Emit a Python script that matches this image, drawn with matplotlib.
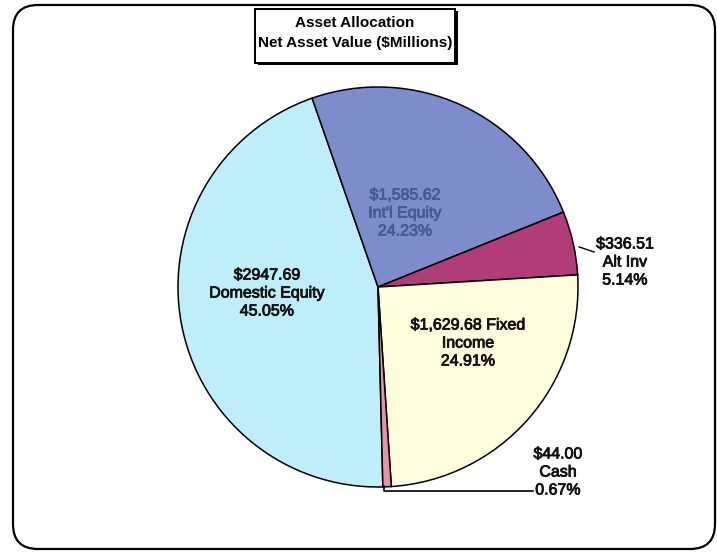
import numpy as np
import matplotlib.pyplot as plt
import matplotlib.patheffects as pe
from matplotlib.patches import FancyBboxPatch, Rectangle

plt.rcParams['font.family'] = ['Liberation Sans', 'DejaVu Sans']

# net asset value by asset class, $ millions
names = ['Domestic Equity', "Int'l Equity", 'Alt Inv', 'Fixed Income', 'Cash']
values = [2947.69, 1585.62, 336.51, 1629.68, 44.00]
use_comma = [False, True, False, True, False]
colors = ['#bfeefb', '#7d8dcb', '#b03d78', '#fefedc', '#ea929e']

W, H = 717, 552
fig = plt.figure(figsize=(W / 100, H / 100), dpi=100)
ax = fig.add_axes([0, 0, 1, 1])

def py(y):
    # pixel-style y (top down) -> data y
    return H - y

cx, cy, R = 378, py(287), 200
wedges, _ = ax.pie(values, colors=colors, startangle=271.4, counterclock=False,
                   center=(cx, cy), radius=R, explode=[0, 0, 0.025, 0, 0],
                   wedgeprops=dict(edgecolor='black', linewidth=1.1))
ax.set_xlim(0, W)
ax.set_ylim(0, H)
ax.set_aspect('equal')
ax.axis('off')

total = sum(values)
money = []
for v, c in zip(values, use_comma):
    money.append(f'${v:,.2f}' if c else f'${v:.2f}')
pct = [f'{100 * v / total:.2f}%' for v in values]

fs = 11.5

def label(x, y, s, color='#111111'):
    ax.text(x, py(y), s, ha='center', va='center', fontsize=fs, color=color,
            linespacing=1.25,
            path_effects=[pe.withStroke(linewidth=0.6, foreground=color)])

label(267, 293, f'{money[0]}\n{names[0]}\n{pct[0]}')
label(405, 213, f'{money[1]}\n{names[1]}\n{pct[1]}', color='#4a5898')
label(625, 262, f'{money[2]}\n{names[2]}\n{pct[2]}')
label(468, 343, f'{money[3]} Fixed\nIncome\n{pct[3]}')
label(558, 472, f'{money[4]}\n{names[4]}\n{pct[4]}')

# leader lines for the outside labels
w = wedges[2]
a = np.deg2rad((w.theta1 + w.theta2) / 2)
x0 = w.center[0] + w.r * np.cos(a)
y0 = w.center[1] + w.r * np.sin(a)
ax.plot([x0 + 6, 594], [y0 - 4, py(252)], color='black', lw=1)

w = wedges[4]
a = np.deg2rad((w.theta1 + w.theta2) / 2)
x0 = w.center[0] + w.r * np.cos(a) - 3
ax.plot([x0, x0, 533], [py(486), py(491), py(491)], color='black', lw=1.2)

# title box with drop shadow
ax.add_patch(Rectangle((258, py(65)), 200, 54, facecolor='black', edgecolor='none'))
ax.add_patch(Rectangle((255, py(63)), 200, 54, facecolor='white', edgecolor='black', lw=1.4))
ax.text(355, py(23), 'Asset Allocation', ha='center', va='center', fontsize=11,
        fontweight='bold')
ax.text(355, py(43), 'Net Asset Value ($Millions)', ha='center', va='center',
        fontsize=11, fontweight='bold')

# rounded outer frame
ax.add_patch(FancyBboxPatch((13, py(549)), 702, 544,
                            boxstyle='round,pad=0,rounding_size=25',
                            facecolor='none', edgecolor='black', lw=1.6))

fig.savefig('out.png', dpi=100)
